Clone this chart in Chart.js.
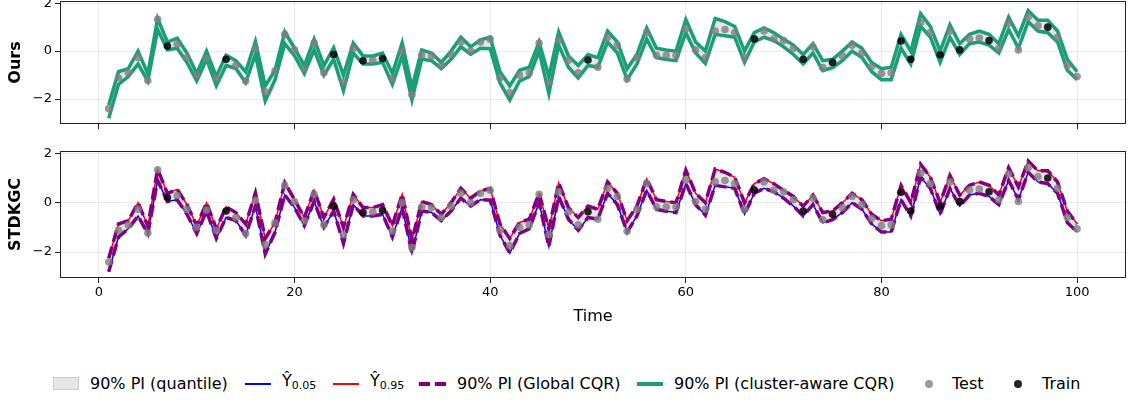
<!DOCTYPE html>
<html>
<head>
<meta charset="utf-8">
<script src="https://cdn.jsdelivr.net/npm/chart.js@4.4.0/dist/chart.umd.min.js"></script>
<style>
  body { margin: 0; background: #fff; width: 1130px; height: 403px; overflow: hidden; position: relative;
         font-family: "DejaVu Sans", sans-serif; }
  canvas { position: absolute; left: 0; }
  #top { top: -10px; }
  #bottom { top: 140px; }
  .leg { position: absolute; font-size: 16px; color: #000; line-height: 18px; white-space: nowrap; }
  .leg sub { font-size: 11px; vertical-align: -3px; line-height: 0; }
  .mk { position: absolute; }
</style>
</head>
<body>
<canvas id="top" width="1130" height="145"></canvas>
<canvas id="bottom" width="1130" height="190"></canvas>

<div class="mk" style="left:53px;top:377px;width:26px;height:13px;background:rgba(128,128,128,0.2);border:1px solid rgba(128,128,128,0.25);box-sizing:border-box"></div>
<div class="leg" style="left:90px;top:375px">90% PI (quantile)</div>
<div class="mk" style="left:245px;top:383px;width:26px;height:2px;background:blue"></div>
<div class="leg" style="left:282px;top:372px">Ŷ<sub>0.05</sub></div>
<div class="mk" style="left:333px;top:383px;width:26px;height:2px;background:red"></div>
<div class="leg" style="left:370px;top:372px">Ŷ<sub>0.95</sub></div>
<div class="mk" style="left:419px;top:382px;width:11px;height:4px;background:purple"></div>
<div class="mk" style="left:435px;top:382px;width:11px;height:4px;background:purple"></div>
<div class="leg" style="left:457px;top:375px">90% PI (Global CQR)</div>
<div class="mk" style="left:637px;top:382px;width:26px;height:4px;background:#1b9e77"></div>
<div class="leg" style="left:674px;top:375px">90% PI (cluster-aware CQR)</div>
<div class="mk" style="left:925px;top:380px;width:8px;height:8px;border-radius:50%;background:rgba(128,128,128,0.8)"></div>
<div class="leg" style="left:952px;top:375px">Test</div>
<div class="mk" style="left:1014px;top:380px;width:8px;height:8px;border-radius:50%;background:rgba(0,0,0,0.85)"></div>
<div class="leg" style="left:1042px;top:375px">Train</div>

<script>
// time steps 1..100
const time = Array.from({length: 100}, (_, i) => i + 1);

// lower quantile (Y 0.05)
const qLow = [
  -2.8, -1.39, -1.06, -0.54, -1.25, 0.9, 0.05, 0.12, -0.47, -1.25,
  -0.34, -1.45, -0.6, -0.73, -1.32, -0.14, -2.08, -1.2, 0.31, -0.2,
  -0.93, 0.05, -1.0, -0.34, -1.65, -0.08, -0.54, -0.54, -0.47, -1.39,
  -0.2, -2.04, -0.34, -0.4, -0.73, -0.34, 0.18, -0.14, 0.12, 0.1,
  -1.32, -2.04, -1.25, -1.06, 0.0, -1.78, 0.25, -0.67, -1.12, -0.6,
  -0.67, 0.38, -0.08, -1.19, -0.54, 0.5, -0.27, -0.35, -0.4, 0.77,
  -0.08, -0.51, 0.7, 0.64, 0.58, -0.47, 0.38, 0.58, 0.44, 0.18,
  -0.14, -0.54, -0.08, -0.82, -0.69, -0.4, 0.0, -0.27, -0.86, -1.19,
  -1.19, 0.12, -0.54, 1.03, 0.58, -0.47, 0.58, -0.14, 0.31, 0.38,
  0.25, -0.08, 0.9, 0.12, 1.23, 0.84, 0.77, 0.38, -0.8, -1.19
];

// upper quantile (Y 0.95)
const qHigh = [
  -2.25, -0.86, -0.73, 0.0, -0.95, 1.36, 0.38, 0.54, -0.08, -0.93,
  0.0, -1.06, -0.17, -0.4, -0.86, 0.4, -1.45, -0.8, 0.81, 0.12,
  -0.6, 0.5, -0.6, 0.14, -1.0, 0.34, -0.2, -0.2, -0.08, -0.93,
  0.34, -1.52, 0.05, -0.08, -0.47, 0.0, 0.58, 0.18, 0.47, 0.58,
  -0.86, -1.45, -0.8, -0.67, 0.38, -1.06, 0.8, -0.2, -0.6, -0.14,
  -0.27, 0.84, 0.38, -0.73, -0.14, 0.97, 0.12, 0.05, 0.0, 1.32,
  0.38, 0.0, 1.36, 1.23, 1.03, 0.0, 0.77, 0.97, 0.77, 0.5,
  0.25, -0.14, 0.31, -0.4, -0.34, 0.0, 0.38, 0.12, -0.47, -0.73,
  -0.67, 0.7, 0.0, 1.56, 1.03, 0.0, 1.1, 0.31, 0.7, 0.84,
  0.7, 0.31, 1.42, 0.64, 1.69, 1.29, 1.29, 0.84, -0.34, -0.86
];

// observed values
const observed = [
  -2.4, -1.12, -0.9, -0.27, -1.23, 1.33, 0.21, 0.29, -0.27, -1.0,
  -0.3, -1.12, -0.34, -0.6, -1.25, 0.1, -1.7, -0.82, 0.7, 0.05,
  -0.73, 0.34, -0.9, -0.14, -1.3, 0.12, -0.4, -0.38, -0.31, -1.15,
  0.0, -1.82, -0.17, -0.2, -0.6, -0.14, 0.38, 0.0, 0.38, 0.5,
  -1.12, -1.74, -1.0, -0.9, 0.34, -1.3, 0.44, -0.38, -0.9, -0.37,
  -0.67, 0.58, 0.25, -1.16, -0.27, 0.77, -0.17, -0.17, -0.17, 0.93,
  0.05, -0.27, 0.84, 0.9, 0.77, -0.27, 0.51, 0.84, 0.51, 0.44,
  0.12, -0.34, 0.18, -0.69, -0.47, -0.2, 0.25, -0.08, -0.64, -0.93,
  -0.9, 0.42, -0.34, 1.19, 0.77, -0.15, 0.84, 0.05, 0.51, 0.55,
  0.44, 0.12, 1.16, 0.05, 1.42, 1.06, 1.0, 0.58, -0.6, -1.06
];

// time steps used for training (rest are test)
const trainSteps = [7, 13, 24, 27, 29, 50, 67, 72, 75, 82, 83, 86, 88, 91, 97];

const xy = arr => time.map((t, i) => ({x: t, y: arr[i]}));
const testPts = time.filter(t => !trainSteps.includes(t)).map(t => ({x: t, y: observed[t - 1]}));
const trainPts = trainSteps.map(t => ({x: t, y: observed[t - 1]}));

const frame = {
  id: 'frame',
  afterDatasetsDraw(chart) {
    const {ctx, chartArea: a} = chart;
    ctx.save();
    ctx.strokeStyle = '#222';
    ctx.lineWidth = 1;
    ctx.strokeRect(Math.round(a.left) + 0.5, Math.round(a.top) + 0.5,
                   Math.round(a.width) - 1, Math.round(a.height) - 1);
    ctx.restore();
  }
};

function line(data, color, width, order, extra) {
  return Object.assign({
    data: xy(data), borderColor: color, borderWidth: width, pointRadius: 0,
    fill: false, tension: 0, order: order
  }, extra || {});
}

function bandAndPoints() {
  return [
    line(qLow, 'rgba(0,0,0,0)', 0, 20),
    line(qHigh, 'rgba(0,0,0,0)', 0, 20, {fill: '-1', backgroundColor: 'rgba(128,128,128,0.2)'}),
    {data: testPts, type: 'scatter', pointRadius: 3.8, pointBackgroundColor: 'rgba(128,128,128,0.8)',
     pointBorderWidth: 0, order: 1},
    {data: trainPts, type: 'scatter', pointRadius: 3.8, pointBackgroundColor: 'rgba(0,0,0,0.85)',
     pointBorderWidth: 0, order: 0}
  ];
}

function makePanel(id, label, lines, bottom) {
  return new Chart(document.getElementById(id), {
    type: 'line',
    data: {datasets: bandAndPoints().concat(lines)},
    plugins: [frame],
    options: {
      responsive: false,
      animation: false,
      layout: {padding: {top: bottom ? 8 : 7, right: 3, left: 6, bottom: 0}},
      plugins: {legend: {display: false}, tooltip: {enabled: false}},
      scales: {
        x: {
          type: 'linear', min: -3.98, max: 105,
          border: {display: false},
          grid: {color: 'rgba(0,0,0,0.08)', tickColor: '#222', tickLength: 5},
          ticks: {display: bottom, stepSize: 20, includeBounds: false, color: '#000', padding: 2,
                  font: {family: 'DejaVu Sans', size: 13}},
          title: {display: bottom, text: 'Time', color: '#000', padding: {top: 2, bottom: 4},
                  font: {family: 'DejaVu Sans', size: 16}},
          afterFit: s => { s.height = bottom ? 52 : 8; }
        },
        y: {
          min: -3.05, max: 2.1,
          border: {display: false},
          grid: {color: 'rgba(0,0,0,0.08)', tickColor: '#222', tickLength: 5},
          ticks: {stepSize: 2, includeBounds: false, color: '#000', padding: 3,
                  font: {family: 'DejaVu Sans', size: 13},
                  callback: v => String(v).replace('-', '\u2212')},
          title: {display: true, text: label, color: '#000', padding: {top: 0, bottom: 4},
                  font: {family: 'DejaVu Sans', size: 16, weight: 'bold'}},
          afterFit: s => { s.width = 54; }
        }
      }
    }
  });
}

makePanel('top', 'Ours', [
  line(qLow, '#1b9e77', 3.5, 2),
  line(qHigh, '#1b9e77', 3.5, 2)
], false);

makePanel('bottom', 'STDKGC', [
  line(qLow, 'blue', 1.5, 4),
  line(qHigh, 'red', 1.5, 4),
  line(qLow, 'purple', 3.5, 3, {borderDash: [12, 5]}),
  line(qHigh, 'purple', 3.5, 3, {borderDash: [12, 5]})
], true);
</script>
</body>
</html>
